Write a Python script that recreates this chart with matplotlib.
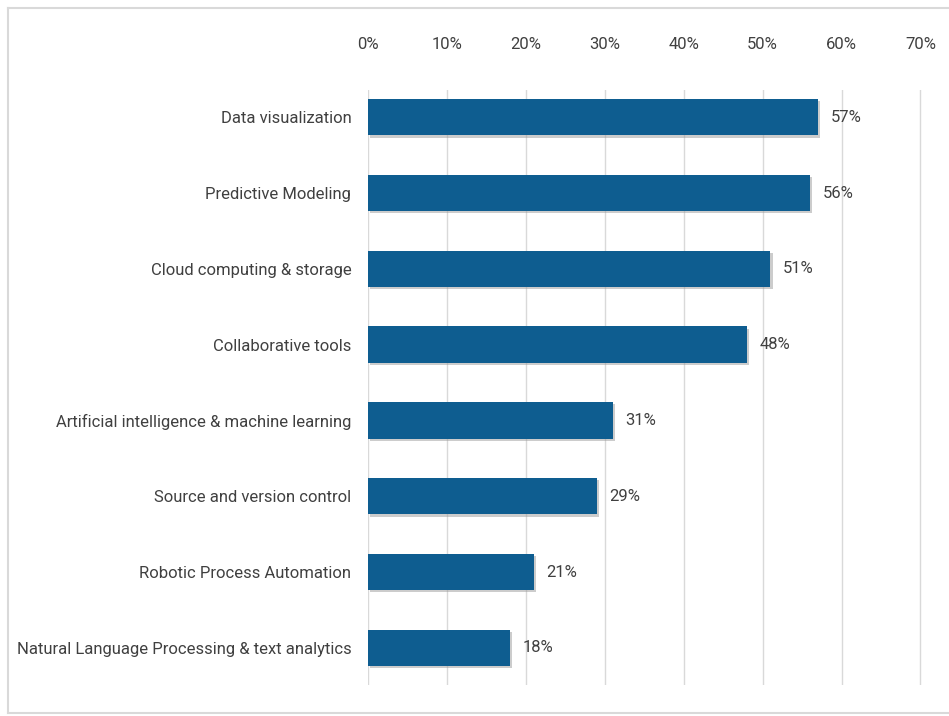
import matplotlib.pyplot as plt
import matplotlib.patheffects as pe
from matplotlib.lines import Line2D

plt.rcParams['font.family'] = ['Roboto', 'DejaVu Sans']

# data
categories = ['Data visualization', 'Predictive Modeling', 'Cloud computing & storage',
              'Collaborative tools', 'Artificial intelligence & machine learning',
              'Source and version control', 'Robotic Process Automation',
              'Natural Language Processing & text analytics']
values = [57, 56, 51, 48, 31, 29, 21, 18]
ticks = [0, 10, 20, 30, 40, 50, 60, 70]

bar_color = '#0e5d90'
text_color = '#404040'
fs = 12

fig = plt.figure(figsize=(9.49, 7.16), dpi=100)
ax = fig.add_axes([368 / 949, 1 - 685 / 716, (922 - 368) / 949, (685 - 90) / 716])

ypos = list(range(len(categories)))
bars = ax.barh(ypos, values, height=0.48, color=bar_color, zorder=3)
for b in bars:
    b.set_path_effects([pe.SimplePatchShadow(offset=(1.5, -1.5), shadow_rgbFace='#9a9a9a', alpha=0.5),
                        pe.Normal()])

# value labels
for y, v in zip(ypos, values):
    ax.text(v + 1.6, y, f'{v}%', va='center', ha='left', fontsize=fs, color=text_color)

ax.set_xlim(0, 70.2)
ax.set_ylim(len(categories) - 0.51, -0.36)
ax.set_xticks(ticks)
ax.set_xticklabels([f'{t}%' for t in ticks])
ax.set_yticks(ypos)
ax.set_yticklabels(categories)
ax.xaxis.tick_top()
ax.tick_params(axis='x', length=0, pad=27, labelsize=fs, labelcolor=text_color)
ax.tick_params(axis='y', length=0, pad=12, labelsize=fs, labelcolor=text_color)
ax.grid(axis='x', color='#d9d9d9', linewidth=1, zorder=0)
for s in ax.spines.values():
    s.set_visible(False)

# outer frame
frame = dict(color='#d9d9d9', linewidth=1.5, transform=fig.transFigure)
fig.add_artist(Line2D([8 / 949, 1], [1 - 8 / 716, 1 - 8 / 716], **frame))
fig.add_artist(Line2D([8 / 949, 8 / 949], [1 - 8 / 716, 1 - 713 / 716], **frame))
fig.add_artist(Line2D([8 / 949, 1], [1 - 713 / 716, 1 - 713 / 716], **frame))

fig.savefig('out.png', dpi=100)
